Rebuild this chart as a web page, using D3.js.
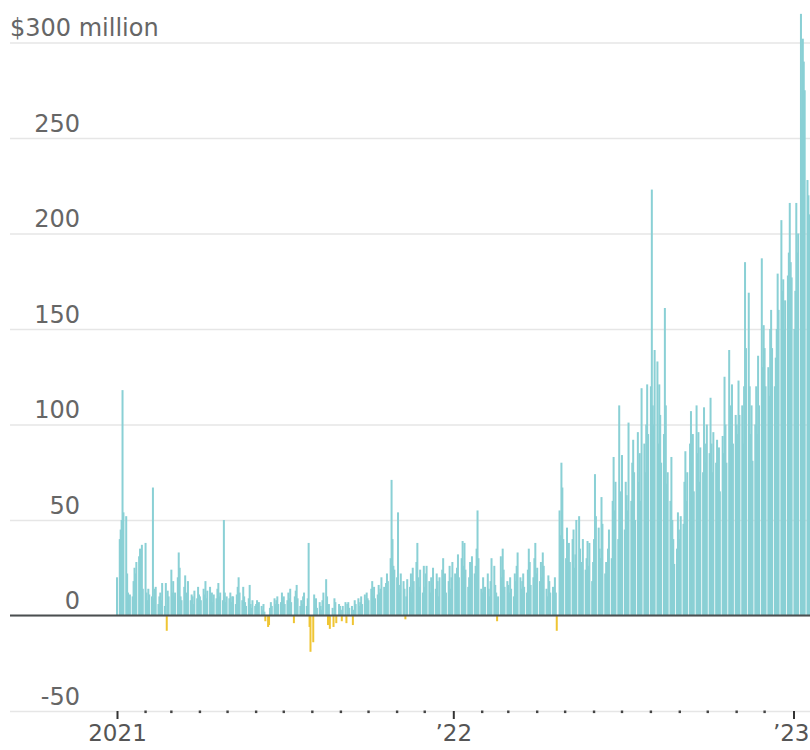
<!DOCTYPE html>
<html><head><meta charset="utf-8">
<script src="https://cdn.jsdelivr.net/npm/d3@7"></script>
<style>html,body{margin:0;padding:0;background:#fff;} svg{display:block;}</style>
</head><body><svg id="chart" width="810" height="750"></svg>
<script>
// ---- data (values in $ million, one per weekday, grouped by month) ----
const yTicks = [-50, 0, 50, 100, 150, 200, 250, 300];
const yTickLabels = ["-50", "0", "50", "100", "150", "200", "250", "$300 million"];
const yearTicks = ["2021-01-01", "2022-01-01", "2023-01-01"];
const yearLabels = ["2021", "\u201922", "\u201923"];

const flows2021 = [
  [20, 40, 45, 50, 118, 54, 52, 22, 12, 9, 11, 10, 18, 25, 22, 28, 31, 35, 30, 37, 14],
  [38, 12, 8, 14, 11, 10, 67, 9, 14, 15, 6, 10, 12, 8, 17, 5, 17, -8, 13, 10],
  [24, 12, 18, 10, 12, 20, 33, 25, 10, 8, 15, 21, 12, 9, 18, 8, 11, 10, 6, 13, 9, 15, 11],
  [10, 8, 14, 11, 18, 9, 13, 15, 10, 12, 7, 11, 9, 14, 17, 10, 12, 8, 50, 12, 7, 10],
  [9, 12, 7, 10, 10, 6, 11, 15, 20, 12, 8, 15, 10, 7, 5, 9, 16, 6, 4, 8, 5],
  [6, 8, 4, 7, 5, 3, 6, 2, -3, -6, -5, 4, 7, 5, 9, 6, 8, 10, 6, 7, 12, 9],
  [10, 6, 8, 12, 9, 14, 7, -4, 10, 13, 16, 9, 5, 8, 6, 10, 12, 5, 9, 38, -6, -19],
  [-14, 11, 6, 9, 4, 7, 5, 3, 8, 12, 19, 10, -5, 6, -7, 4, -6, 9, 7, -4, 6, 5],
  [3, -3, 5, 7, -4, 6, 7, 4, 5, -5, 3, 8, 6, 9, 5, 7, 10, 6, 11, 8, 12, 9],
  [8, 14, 18, 10, 15, 9, 11, 16, 12, 14, 20, 15, 13, 17, 22, 18, 30, 71, 40, 26, 24],
  [20, 54, 16, 12, 22, 18, 14, -2, 10, 19, 15, 22, 12, 25, 18, 28, 38, 20, 15, 24, 12, 26],
  [15, 22, 26, 18, 12, 20, 16, 25, 14, 22, 18, 10, 20, 24, 30, 16, 22, 12, 18, 26, 14, 20, 28]
];
const flows2022 = [
  [22, 18, 25, 32, 20, 30, 39, 26, 38, 24, 15, 20, 28, 18, 31, 22, 26, 35, 55, 30, 14],
  [12, 20, 9, 15, 22, 14, 10, 18, 30, 26, 16, 12, -3, 10, 31, 20, 35, 24, 15, 18],
  [16, 12, 20, 14, 10, 22, 18, 26, 33, 20, 14, 18, 22, 15, 12, 24, 35, 28, 16, 20, 30, 38, 22],
  [25, 18, 28, 20, 33, 26, 14, 10, 21, 18, 12, 15, 8, 20, 12, -8, 55, 42, 80, 67, 40],
  [30, 46, 22, 38, 28, 40, 45, 25, 32, 50, 52, 35, 20, 28, 40, 24, 30, 39, 26, 38, 18, 28],
  [40, 74, 52, 46, 35, 30, 62, 48, 22, 28, 20, 35, 45, 30, 60, 83, 55, 70, 40, 110, 65, 50],
  [84, 45, 70, 63, 55, 101, 60, 80, 92, 75, 50, 96, 70, 85, 60, 119, 90, 75, 100, 121, 95],
  [120, 223, 110, 100, 139, 133, 90, 121, 105, 80, 95, 161, 110, 69, 75, 60, 83, 50, 40, 27, 35, 54, 45],
  [40, 52, 48, 70, 86, 60, 75, 90, 107, 80, 95, 65, 110, 85, 96, 70, 88, 75, 109, 90, 80, 100],
  [85, 114, 90, 75, 96, 80, 92, 70, 88, 65, 94, 85, 125, 100, 80, 139, 110, 95, 121, 90, 105],
  [100, 95, 123, 105, 110, 90, 120, 185, 140, 169, 120, 95, 110, 81, 100, 120, 95, 136, 110, 187, 130, 152],
  [140, 120, 130, 115, 150, 160, 140, 120, 135, 150, 179, 160, 207, 170, 176, 150, 165, 178, 190, 216, 185, 177]
];
const flows2023 = [
  [150, 170, 216, 190, 200, 315, 260, 302, 290, 275, 228, 220, 210]
];

// ---- build weekday series ----
function weekdaySeries(year, months) {
  const out = [];
  months.forEach((vals, m) => {
    let i = 0;
    for (let d = new Date(year, m, 1); d.getMonth() === m && i < vals.length; d = new Date(year, m, d.getDate() + 1)) {
      const wd = d.getDay();
      if (wd === 0 || wd === 6) continue;
      out.push({ date: new Date(d), value: vals[i++] });
    }
  });
  return out;
}
const data = [].concat(weekdaySeries(2021, flows2021), weekdaySeries(2022, flows2022), weekdaySeries(2023, flows2023));

// ---- chart ----
const W = 810, H = 750;
const svg = d3.select("#chart");
svg.append("rect").attr("width", W).attr("height", H).attr("fill", "#fff");

const yearDates = yearTicks.map(s => { const p = s.split("-"); return new Date(+p[0], +p[1] - 1, +p[2]); });
const x = d3.scaleTime().domain(yearDates).range([117, 453.3, 793.5]);
const y = d3.scaleLinear().domain([-50, 300]).range([711, 42.5]);

const font = "DejaVu Sans, Verdana, sans-serif";

// y axis with gridlines
const yAxis = svg.append("g").attr("transform", `translate(${W},0)`)
  .call(d3.axisLeft(y).tickValues(yTicks).tickSize(W - 10).tickPadding(0)
    .tickFormat((d, i) => yTickLabels[i]));
yAxis.select(".domain").remove();
yAxis.selectAll(".tick line").attr("stroke", "#e6e6e6").attr("stroke-width", 1.5);
yAxis.selectAll(".tick text")
  .attr("x", d => d === 300 ? 10 - W : 80 - W)
  .attr("text-anchor", d => d === 300 ? "start" : "end")
  .attr("dy", "-0.28em")
  .attr("fill", "#666").attr("font-family", font).attr("font-size", 24);

// bars
const barW = 2.0;
svg.append("g").selectAll("rect").data(data).join("rect")
  .attr("x", d => x(d.date) - barW / 2)
  .attr("width", barW)
  .attr("y", d => y(Math.max(0, d.value)))
  .attr("height", d => Math.abs(y(d.value) - y(0)))
  .attr("fill", d => d.value >= 0 ? "#8ad0d5" : "#efc534");

// zero line
svg.append("line").attr("x1", 10).attr("x2", W).attr("y1", y(0)).attr("y2", y(0))
  .attr("stroke", "#4a4f50").attr("stroke-width", 2.2);

// x axis: year ticks + labels
const xAxis = svg.append("g").attr("transform", `translate(0,${y(-50)})`)
  .call(d3.axisBottom(x).tickValues(yearDates).tickSize(8).tickPadding(6)
    .tickFormat((d, i) => yearLabels[i]));
xAxis.select(".domain").remove();
xAxis.selectAll(".tick line").attr("stroke", "#333").attr("stroke-width", 2);
xAxis.selectAll(".tick text").attr("fill", "#555").attr("font-family", font).attr("font-size", 23)
  .attr("text-anchor", (d, i) => i === yearLabels.length - 1 ? "end" : "middle")
  .attr("x", (d, i) => i === yearLabels.length - 1 ? (W - 1) - x(d) : 0);

// month dots
const months = d3.timeMonth.range(yearDates[0], yearDates[2]).filter(d => d.getMonth() !== 0);
svg.append("g").selectAll("rect").data(months).join("rect")
  .attr("x", d => x(d) - 1.2).attr("y", y(-50) - 0.5)
  .attr("width", 2.4).attr("height", 2.6).attr("fill", "#444");
</script></body></html>
